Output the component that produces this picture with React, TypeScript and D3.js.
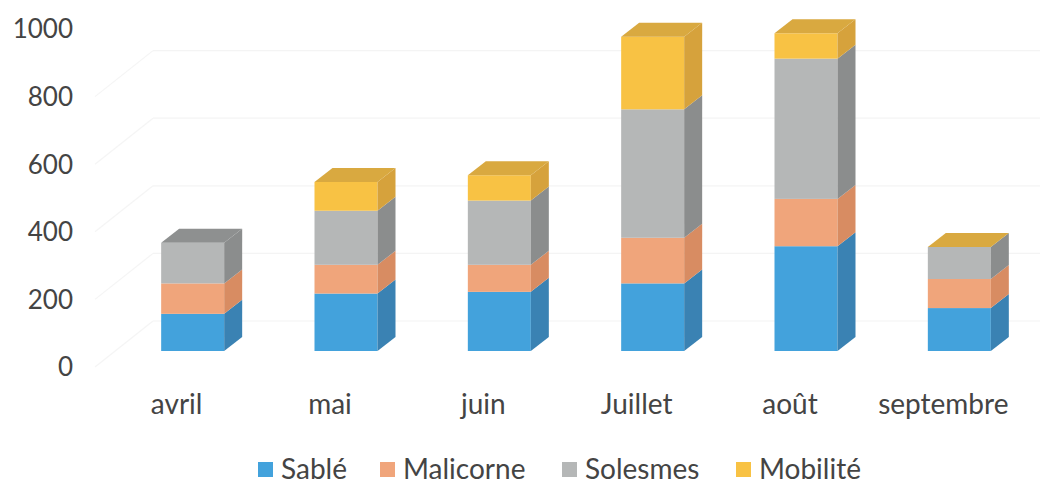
import { select, scaleLinear, scaleBand } from "d3";
import React, { useEffect, useRef } from "react";

// data
const months = ["avril", "mai", "juin", "Juillet", "août", "septembre"];
const series = ["Sablé", "Malicorne", "Solesmes", "Mobilité"];
const sable = [110, 170, 175, 200, 310, 127];
const malicorne = [90, 85, 80, 135, 140, 86];
const solesmes = [120, 160, 190, 380, 415, 95];
const mobilite = [null, 85, 75, 215, 75, 0];
const yTicks = [0, 200, 400, 600, 800, 1000];

// front / side / top colours per series
const colors = [
  { front: "#43a2dc", side: "#3a82b3", top: "#5aaee2" },
  { front: "#f0a57b", side: "#d88c62", top: "#f3b48f" },
  { front: "#b5b7b7", side: "#8b8d8d", top: "#8e9090" },
  { front: "#f8c244", side: "#d6a23c", top: "#d9a940" },
];

const FONT = "Lato, 'Liberation Sans', sans-serif";

export default function App() {
  const svgRef = useRef(null);

  useEffect(() => {
    const svg = select(svgRef.current);
    svg.selectAll("*").remove();

    const values = [sable, malicorne, solesmes, mobilite];

    // axis scale is on the front edge of the floor
    const y = scaleLinear().domain([0, 1000]).range([367, 29]);
    const x = scaleBand().domain(months).range([100, 1020]);

    // depth offsets (3d look)
    const wallDx = 58, wallDy = -46; // front edge -> back wall
    const barDx = 18, barDy = -14; // bar depth
    const frontDx = 16, frontDy = -16; // front edge -> bar front face
    const barW = 63;

    // very faint gridlines on back wall and left side wall
    const grid = svg.append("g");
    yTicks.slice(0, -1).forEach((t) => {
      grid.append("line")
        .attr("x1", 95 + wallDx).attr("x2", 1040)
        .attr("y1", y(t) + wallDy).attr("y2", y(t) + wallDy)
        .attr("stroke", "#f4f4f4").attr("stroke-width", 1.2);
      grid.append("line")
        .attr("x1", 95).attr("x2", 95 + wallDx)
        .attr("y1", y(t)).attr("y2", y(t) + wallDy)
        .attr("stroke", "#f5f5f5").attr("stroke-width", 1.2);
    });

    // y axis labels
    svg.append("g").selectAll("text")
      .data(yTicks)
      .join("text")
      .attr("x", 73)
      .attr("y", (d) => y(d))
      .attr("dy", "0.36em")
      .attr("text-anchor", "end")
      .attr("font-family", FONT)
      .attr("font-size", 26)
      .attr("fill", "#444")
      .text((d) => d);

    // bars
    const bars = svg.append("g");
    months.forEach((m, i) => {
      const cx = x(m) + x.bandwidth() / 2;
      const x0 = cx + frontDx - barW / 2;
      const x1 = x0 + barW;
      let acc = 0;
      let topIdx = -1;
      values.forEach((vals, s) => {
        const v = vals[i];
        if (v === null) return;
        const yb = y(acc) + frontDy;
        const yt = y(acc + v) + frontDy;
        acc += v;
        topIdx = s;
        bars.append("rect")
          .attr("x", x0).attr("y", yt)
          .attr("width", barW).attr("height", Math.max(0, yb - yt))
          .attr("fill", colors[s].front);
        bars.append("polygon")
          .attr("points", [
            [x1, yt], [x1 + barDx, yt + barDy], [x1 + barDx, yb + barDy], [x1, yb],
          ].map((p) => p.join(",")).join(" "))
          .attr("fill", colors[s].side);
      });
      if (topIdx >= 0) {
        const yt = y(acc) + frontDy;
        bars.append("polygon")
          .attr("points", [
            [x0, yt], [x0 + barDx, yt + barDy], [x1 + barDx, yt + barDy], [x1, yt],
          ].map((p) => p.join(",")).join(" "))
          .attr("fill", colors[topIdx].top);
      }
    });

    // category labels
    svg.append("g").selectAll("text")
      .data(months)
      .join("text")
      .attr("x", (d) => x(d) + x.bandwidth() / 2)
      .attr("y", 404)
      .attr("dy", "0.36em")
      .attr("text-anchor", "middle")
      .attr("font-family", FONT)
      .attr("font-size", 28)
      .attr("fill", "#444")
      .text((d) => d);

    // legend
    const legendX = [258, 380, 562, 736];
    const legend = svg.append("g").selectAll("g")
      .data(series)
      .join("g")
      .attr("transform", (d, i) => `translate(${legendX[i]},469)`);
    legend.append("rect")
      .attr("x", 0).attr("y", -7)
      .attr("width", 15).attr("height", 15)
      .attr("fill", (d, i) => colors[i].front);
    legend.append("text")
      .attr("x", 23)
      .attr("dy", "0.36em")
      .attr("font-family", FONT)
      .attr("font-size", 28)
      .attr("fill", "#444")
      .text((d) => d);
  }, []);

  return (
    <svg ref={svgRef} width="1054" height="486" viewBox="0 0 1054 486"
      style={{ position: "absolute", left: 0, top: 0, background: "#fff" }} />
  );
}
